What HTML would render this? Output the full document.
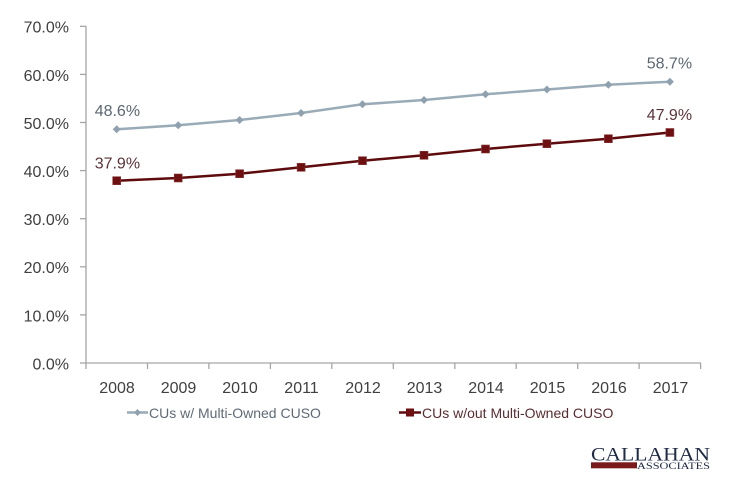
<!DOCTYPE html>
<html><head><meta charset="utf-8"><style>
html,body{margin:0;padding:0;background:#fff;}
svg{display:block;}
text{font-family:"Liberation Sans",sans-serif;}
</style></head><body>
<svg width="734" height="486" viewBox="0 0 734 486" xmlns="http://www.w3.org/2000/svg">
<rect width="734" height="486" fill="#fff"/>
<!-- axes -->
<g stroke="#a6a6a6" stroke-width="1.3" fill="none">
<line x1="86" y1="26" x2="86" y2="363"/>
<line x1="86" y1="363" x2="701" y2="363"/>
<line x1="80" y1="26.3" x2="86" y2="26.3"/>
<line x1="80" y1="74.4" x2="86" y2="74.4"/>
<line x1="80" y1="122.5" x2="86" y2="122.5"/>
<line x1="80" y1="170.6" x2="86" y2="170.6"/>
<line x1="80" y1="218.7" x2="86" y2="218.7"/>
<line x1="80" y1="266.8" x2="86" y2="266.8"/>
<line x1="80" y1="314.9" x2="86" y2="314.9"/>
<line x1="80" y1="363" x2="86" y2="363"/>
<line x1="86" y1="363" x2="86" y2="369"/>
<line x1="147.5" y1="363" x2="147.5" y2="369"/>
<line x1="208.9" y1="363" x2="208.9" y2="369"/>
<line x1="270.4" y1="363" x2="270.4" y2="369"/>
<line x1="331.8" y1="363" x2="331.8" y2="369"/>
<line x1="393.3" y1="363" x2="393.3" y2="369"/>
<line x1="454.8" y1="363" x2="454.8" y2="369"/>
<line x1="516.2" y1="363" x2="516.2" y2="369"/>
<line x1="577.7" y1="363" x2="577.7" y2="369"/>
<line x1="639.1" y1="363" x2="639.1" y2="369"/>
<line x1="700.6" y1="363" x2="700.6" y2="369"/>
</g>
<!-- y labels -->
<g font-size="16" fill="#404040" text-anchor="end">
<text x="69" y="32.7">70.0%</text>
<text x="69" y="80.8">60.0%</text>
<text x="69" y="128.9">50.0%</text>
<text x="69" y="177">40.0%</text>
<text x="69" y="225.1">30.0%</text>
<text x="69" y="273.2">20.0%</text>
<text x="69" y="321.3">10.0%</text>
<text x="69" y="369.4">0.0%</text>
</g>
<!-- x labels -->
<g font-size="16" fill="#404040" text-anchor="middle">
<text x="117" y="393">2008</text>
<text x="178.5" y="393">2009</text>
<text x="240" y="393">2010</text>
<text x="301.5" y="393">2011</text>
<text x="363" y="393">2012</text>
<text x="424.5" y="393">2013</text>
<text x="486" y="393">2014</text>
<text x="547.5" y="393">2015</text>
<text x="609" y="393">2016</text>
<text x="670.5" y="393">2017</text>
</g>
<!-- series 1 -->
<polyline fill="none" stroke="#9aabb8" stroke-width="2.5" points="116.7,129.3 178.2,125.3 239.6,120 301.1,113 362.5,104.3 424,100 485.5,94.3 546.9,89.5 608.4,84.7 669.9,81.7"/>
<g fill="#8fa1ae">
<path d="M116.7,125.3 L120.7,129.3 L116.7,133.3 L112.7,129.3Z"/>
<path d="M178.2,121.3 L182.2,125.3 L178.2,129.3 L174.2,125.3Z"/>
<path d="M239.6,116 L243.6,120 L239.6,124 L235.6,120Z"/>
<path d="M301.1,109 L305.1,113 L301.1,117 L297.1,113Z"/>
<path d="M362.5,100.3 L366.5,104.3 L362.5,108.3 L358.5,104.3Z"/>
<path d="M424,96 L428,100 L424,104 L420,100Z"/>
<path d="M485.5,90.3 L489.5,94.3 L485.5,98.3 L481.5,94.3Z"/>
<path d="M546.9,85.5 L550.9,89.5 L546.9,93.5 L542.9,89.5Z"/>
<path d="M608.4,80.7 L612.4,84.7 L608.4,88.7 L604.4,84.7Z"/>
<path d="M669.9,77.7 L673.9,81.7 L669.9,85.7 L665.9,81.7Z"/>
</g>
<!-- series 2 -->
<polyline fill="none" stroke="#5e0b0d" stroke-width="2.5" points="116.7,180.7 178.2,178 239.6,173.7 301.1,167.3 362.5,160.7 424,155.3 485.5,149 546.9,143.7 608.4,138.7 669.9,132.5"/>
<g fill="#6e0f11" stroke="#8a3a3a" stroke-width="0.6">
<rect x="112.7" y="176.7" width="8" height="8"/>
<rect x="174.2" y="174" width="8" height="8"/>
<rect x="235.6" y="169.7" width="8" height="8"/>
<rect x="297.1" y="163.3" width="8" height="8"/>
<rect x="358.5" y="156.7" width="8" height="8"/>
<rect x="420" y="151.3" width="8" height="8"/>
<rect x="481.5" y="145" width="8" height="8"/>
<rect x="542.9" y="139.7" width="8" height="8"/>
<rect x="604.4" y="134.7" width="8" height="8"/>
<rect x="665.9" y="128.5" width="8" height="8"/>
</g>
<!-- data labels -->
<g font-size="16">
<text x="94.7" y="116" fill="#5b6670">48.6%</text>
<text x="94.7" y="168.3" fill="#5b3338">37.9%</text>
<text x="646.7" y="68.3" fill="#5b6670">58.7%</text>
<text x="646.7" y="120" fill="#5b3338">47.9%</text>
</g>
<!-- legend -->
<line x1="127" y1="412.5" x2="148" y2="412.5" stroke="#9aabb8" stroke-width="2.5"/>
<path d="M137.5,409 L141,412.5 L137.5,416 L134,412.5Z" fill="#8fa1ae"/>
<text x="149" y="418" font-size="14" fill="#5f6a74">CUs w/ Multi-Owned CUSO</text>
<line x1="399" y1="412.5" x2="421" y2="412.5" stroke="#5e0b0d" stroke-width="2.5"/>
<rect x="406" y="408.5" width="8" height="8" fill="#6e0f11"/>
<text x="422" y="418" font-size="14" fill="#5a2d31">CUs w/out Multi-Owned CUSO</text>
<!-- logo -->
<text x="591" y="460.5" style="font-family:'Liberation Serif',serif;font-size:18.5px" fill="#1f2a44" textLength="119" lengthAdjust="spacingAndGlyphs">CALLAHAN</text>
<rect x="591" y="462.3" width="46" height="6" fill="#7a1a1d"/>
<text x="637" y="469" style="font-family:'Liberation Serif',serif;font-size:9px" fill="#1f2a44" textLength="73" lengthAdjust="spacingAndGlyphs">ASSOCIATES</text>
</svg>
</body></html>
